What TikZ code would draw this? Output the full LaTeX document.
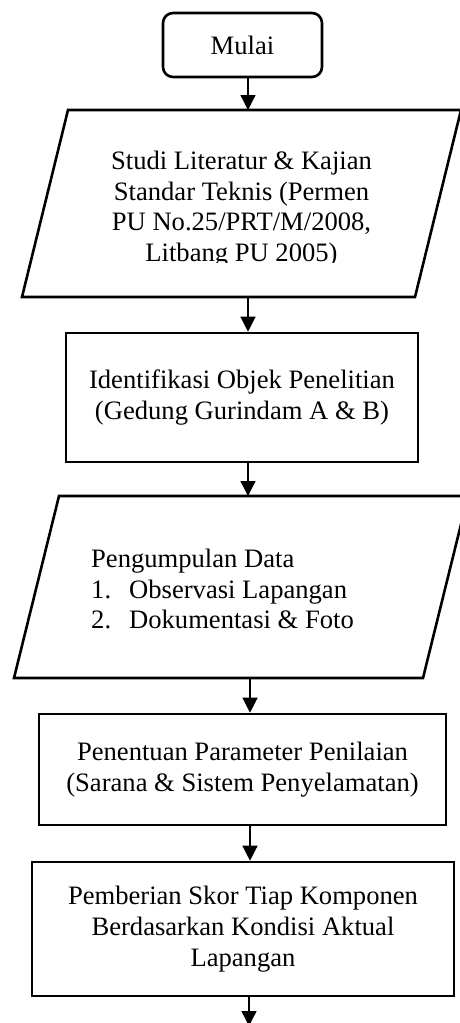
\documentclass[tikz,border=0pt]{standalone}
\usepackage{fontspec}
\setmainfont{Liberation Serif}
\usetikzlibrary{arrows.meta}
\begin{document}
\begin{tikzpicture}[x=1pt,y=1pt,
  txt/.style={font=\fontsize{26.6}{30.7}\selectfont, align=center, inner sep=0pt},
  boxline/.style={line width=2.6pt},
  procbox/.style={draw, boxline, txt},
  conn/.style={line width=1.3pt, -{Triangle[width=15pt,length=15pt]}},
  holder/.style={inner sep=0pt, outer sep=0pt}
]
\useasboundingbox (0,0) rectangle (460,-1023);
\clip (0,0) rectangle (460,-1023);
\coordinate (axA) at (248,0);
\coordinate (axB) at (250,0);

% Start
\node[procbox, rounded corners=10pt, minimum width=159pt, minimum height=64pt] (start) at (242.5,-45) {Mulai};

% Parallelogram 1
\node[holder, minimum width=393pt, minimum height=187pt] (p1) at (241.5,-203.5) {};
\draw[boxline] ([xshift=-23pt]p1.south west) -- ([xshift=23pt]p1.north west) -- ([xshift=23pt]p1.north east) -- ([xshift=-23pt]p1.south east) -- cycle;
\begin{scope}
\clip (0,-110) rectangle (460,-262);
\node[txt] (p1t) at (241.5,-209) {Studi Literatur \& Kajian\\Standar Teknis (Permen\\PU No.25/PRT/M/2008,\\Litbang PU 2005)};
\end{scope}

% Box 2
\node[procbox, minimum width=352pt, minimum height=129pt] (r2) at (242,-397.5) {Identifikasi Objek Penelitian\\(Gedung Gurindam A \& B)};

% Parallelogram 2
\node[holder, minimum width=409pt, minimum height=182pt] (p2) at (241,-587) {};
\draw[boxline] ([xshift=-22.5pt]p2.south west) -- ([xshift=22.5pt]p2.north west) -- ([xshift=22.5pt]p2.north east) -- ([xshift=-22.5pt]p2.south east) -- cycle;
\node[txt, align=left, anchor=west] (p2t) at (91,-589) {Pengumpulan Data\\\makebox[38pt][l]{1.}Observasi Lapangan\\\makebox[38pt][l]{2.}Dokumentasi \& Foto};

% Box 3
\node[procbox, minimum width=407pt, minimum height=111pt] (r3) at (242.5,-769.5) {Penentuan Parameter Penilaian\\(Sarana \& Sistem Penyelamatan)};

% Box 4
\node[procbox, minimum width=422pt, minimum height=134pt] (r4) at (243,-929) {Pemberian Skor Tiap Komponen\\Berdasarkan Kondisi Aktual\\Lapangan};

\coordinate (endpt) at (249,-1026);

% Connectors
\draw[conn] (start.south -| axA) -- (p1.north -| axA);
\draw[conn] (p1.south -| axA) -- (r2.north -| axA);
\draw[conn] (r2.south -| axA) -- (p2.north -| axA);
\draw[conn] (p2.south -| axB) -- (r3.north -| axB);
\draw[conn] (r3.south -| axB) -- (r4.north -| axB);
\draw[conn] (r4.south -| endpt) -- (endpt);
\end{tikzpicture}
\end{document}
